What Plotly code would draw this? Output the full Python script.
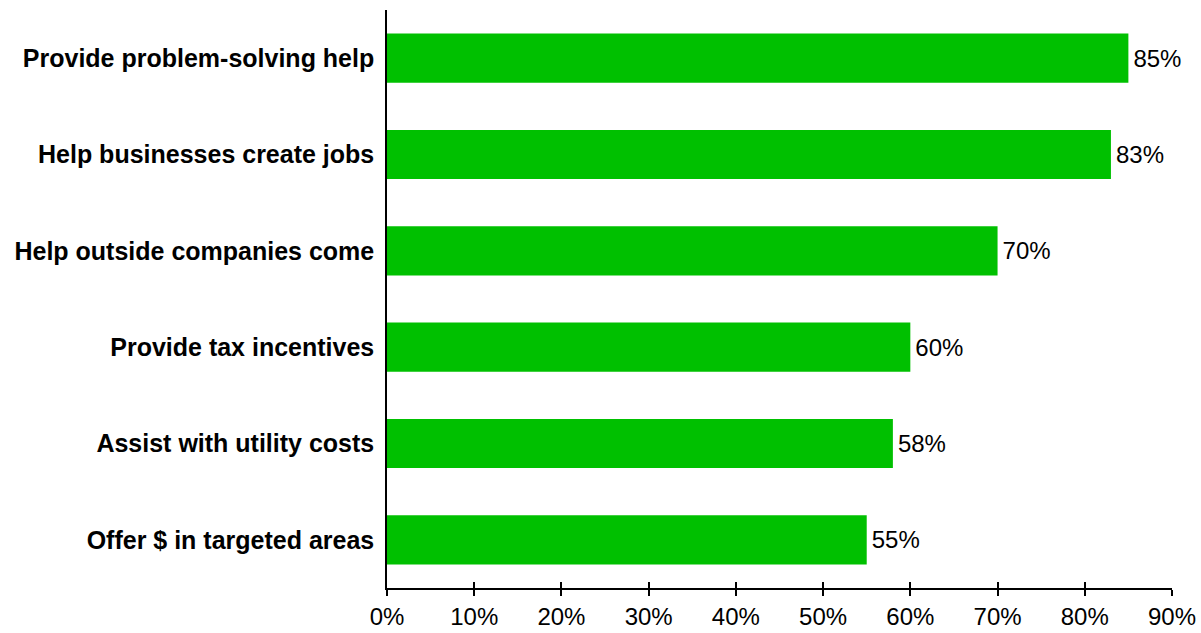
import plotly.graph_objects as go

categories = [
    "Provide problem-solving help",
    "Help businesses create jobs",
    "Help outside companies come",
    "Provide tax incentives",
    "Assist with utility costs",
    "Offer $ in targeted areas",
]
values = [85, 83, 70, 60, 58, 55]
tick_vals = [0, 10, 20, 30, 40, 50, 60, 70, 80, 90]
tick_text = [f"{v}%" for v in tick_vals]

font_family = "Liberation Sans, Arial, sans-serif"

fig = go.Figure()
fig.add_trace(go.Bar(
    x=values,
    y=categories,
    orientation="h",
    marker=dict(color="#00C000", line=dict(width=0)),
    width=0.51,
    text=[f"\u200a{v}%" for v in values],
    textposition="outside",
    textfont=dict(family=font_family, size=24, color="#000000"),
    cliponaxis=False,
    showlegend=False,
))
# invisible companion trace so the second x axis (inward ticks) is drawn
fig.add_trace(go.Scatter(x=[0, 90], y=[categories[0], categories[0]], xaxis="x2",
                         mode="markers", marker=dict(opacity=0), showlegend=False,
                         hoverinfo="skip"))

fig.update_layout(
    width=1201, height=633,
    margin=dict(l=387, r=29, t=10, b=45),
    paper_bgcolor="white", plot_bgcolor="white",
    bargap=0.49,
    xaxis=dict(
        range=[0, 90], tickvals=tick_vals, ticktext=tick_text,
        automargin=False,
        showgrid=False, zeroline=False,
        showline=True, linecolor="#000000", linewidth=1.5,
        ticks="outside", ticklen=6, tickwidth=1.5, tickcolor="#000000",
        tickfont=dict(family=font_family, size=24, color="#000000"),
    ),
    xaxis2=dict(
        range=[0, 90], tickvals=tick_vals, overlaying="x", side="bottom",
        automargin=False,
        showticklabels=False, showgrid=False, zeroline=False, showline=False,
        ticks="inside", ticklen=6, tickwidth=1.5, tickcolor="#000000",
        anchor="y",
    ),
    yaxis=dict(
        categoryorder="array", categoryarray=categories[::-1],
        range=[-0.5, 5.5], automargin=False,
        showgrid=False, zeroline=False,
        showline=True, linecolor="#000000", linewidth=1.5,
        ticks="", ticklabelstandoff=6,
        tickfont=dict(family=font_family, size=25, color="#000000", weight="bold"),
    ),
)

fig.write_html("out.html")
